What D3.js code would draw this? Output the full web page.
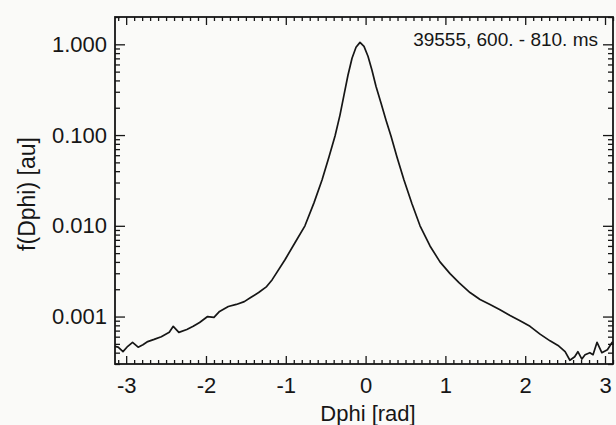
<!DOCTYPE html>
<html>
<head>
<meta charset="utf-8">
<script src="https://cdn.jsdelivr.net/npm/d3@7"></script>
<style>
  body { margin: 0; background: #fafaf8; }
  svg { display: block; }
  text { font-family: "Liberation Sans", Arial, sans-serif; fill: #161616; }
</style>
</head>
<body>
<svg id="chart" width="616" height="425"></svg>
<script>
// phase difference distribution
var dphi = [-3.14, -3.10, -3.04, -2.98, -2.92, -2.85, -2.79, -2.73, -2.65, -2.56,
    -2.46, -2.41, -2.34, -2.24, -2.16, -2.08, -1.98, -1.90, -1.83, -1.72,
    -1.62, -1.52, -1.44, -1.34, -1.24, -1.17, -1.01, -0.885, -0.76, -0.647,
    -0.546, -0.459, -0.383, -0.321, -0.271, -0.221, -0.17, -0.12, -0.07, -0.02,
    0.03, 0.08, 0.13, 0.193, 0.256, 0.318, 0.393, 0.481, 0.581, 0.682,
    0.807, 0.932, 1.058, 1.17, 1.308, 1.434, 1.559, 1.684, 1.81, 1.935,
    2.06, 2.186, 2.311, 2.411, 2.50, 2.56, 2.62, 2.66, 2.71, 2.75,
    2.81, 2.85, 2.90, 2.96, 3.03, 3.09, 3.10];
var fval = [4.7e-4, 4.6e-4, 4.1e-4, 4.7e-4, 5.2e-4, 4.6e-4, 4.9e-4, 5.3e-4, 5.6e-4, 6.0e-4,
    6.7e-4, 7.8e-4, 6.7e-4, 7.2e-4, 7.8e-4, 8.6e-4, 1.0e-3, 9.8e-4, 1.14e-3, 1.29e-3,
    1.36e-3, 1.46e-3, 1.62e-3, 1.84e-3, 2.14e-3, 2.55e-3, 4.23e-3, 6.5e-3, 0.0100, 0.0179,
    0.032, 0.0573, 0.0975, 0.166, 0.275, 0.456, 0.702, 0.927, 1.05, 0.95,
    0.738, 0.518, 0.345, 0.225, 0.146, 0.0975, 0.0573, 0.032, 0.0175, 0.0100,
    6.0e-3, 4.0e-3, 2.97e-3, 2.36e-3, 1.84e-3, 1.54e-3, 1.36e-3, 1.19e-3, 1.03e-3, 9.0e-4,
    7.8e-4, 6.4e-4, 5.4e-4, 4.8e-4, 4.1e-4, 3.3e-4, 3.6e-4, 4.1e-4, 3.4e-4, 3.8e-4,
    4.0e-4, 3.8e-4, 5.2e-4, 4.0e-4, 4.3e-4, 5.2e-4, 4.9e-4];

var xTicks = [-3, -2, -1, 0, 1, 2, 3];
var xTickLabels = ["-3", "-2", "-1", "0", "1", "2", "3"];
var yTicks = [1, 0.1, 0.01, 0.001];
var yTickLabels = ["1.000", "0.100", "0.010", "0.001"];
var note = "39555, 600. - 810. ms";

(function () {
    var pLeft = 115, pRight = 613, pTop = 17, pBottom = 364;
    var ink = "#161616";

    var svg = d3.select("#chart");

    var x = d3.scaleLinear().domain([-3.14, 3.1]).range([pLeft, pRight]);
    var y = d3.scaleLog().domain([0.0003, 2]).range([pBottom, pTop]);

    var minorX = x.ticks(62).filter(function (v) { return Math.abs(v - Math.round(v)) > 1e-6; });
    var minorY = y.ticks().filter(function (v) {
        return yTicks.every(function (t) { return Math.abs(v / t - 1) > 1e-6; });
    });

    function clean(g) {
        g.select(".domain").remove();
        g.selectAll("line").attr("stroke", ink).attr("stroke-width", 1.3);
        g.selectAll("text").attr("fill", ink);
    }

    // minor ticks, all four sides
    svg.append("g").attr("transform", "translate(0," + pBottom + ")")
        .call(d3.axisBottom(x).tickValues(minorX).tickSize(-4).tickFormat("")).call(clean);
    svg.append("g").attr("transform", "translate(0," + pTop + ")")
        .call(d3.axisTop(x).tickValues(minorX).tickSize(-4).tickFormat("")).call(clean);
    svg.append("g").attr("transform", "translate(" + pLeft + ",0)")
        .call(d3.axisLeft(y).tickValues(minorY).tickSize(-5).tickFormat("")).call(clean);
    svg.append("g").attr("transform", "translate(" + pRight + ",0)")
        .call(d3.axisRight(y).tickValues(minorY).tickSize(-5).tickFormat("")).call(clean);

    // major ticks + labels
    svg.append("g").attr("transform", "translate(0," + pBottom + ")")
        .call(d3.axisBottom(x).tickValues(xTicks).tickSize(-8).tickPadding(13)
            .tickFormat(function (d, i) { return xTickLabels[i]; }))
        .call(clean)
        .selectAll("text").style("font-size", "22px");
    svg.append("g").attr("transform", "translate(0," + pTop + ")")
        .call(d3.axisTop(x).tickValues(xTicks).tickSize(-8).tickFormat("")).call(clean);
    svg.append("g").attr("transform", "translate(" + pLeft + ",0)")
        .call(d3.axisLeft(y).tickValues(yTicks).tickSize(-10).tickPadding(8)
            .tickFormat(function (d, i) { return yTickLabels[i]; }))
        .call(clean)
        .selectAll("text").style("font-size", "22px");
    svg.append("g").attr("transform", "translate(" + pRight + ",0)")
        .call(d3.axisRight(y).tickValues(yTicks).tickSize(-10).tickFormat("")).call(clean);

    // frame
    svg.append("rect")
        .attr("x", pLeft).attr("y", pTop)
        .attr("width", pRight - pLeft).attr("height", pBottom - pTop)
        .attr("fill", "none").attr("stroke", ink).attr("stroke-width", 1.8);

    // the curve
    var pts = dphi.map(function (d, i) { return [d, fval[i]]; });
    var line = d3.line()
        .x(function (d) { return x(d[0]); })
        .y(function (d) { return y(d[1]); });

    svg.append("path")
        .datum(pts)
        .attr("d", line)
        .attr("fill", "none")
        .attr("stroke", ink)
        .attr("stroke-width", 1.7)
        .attr("stroke-linejoin", "round");

    // annotation, axis titles
    svg.append("text")
        .attr("x", 598).attr("y", 46)
        .attr("text-anchor", "end")
        .style("font-size", "19px")
        .text(note);

    svg.append("text")
        .attr("x", 368).attr("y", 421)
        .attr("text-anchor", "middle")
        .style("font-size", "22px")
        .text("Dphi [rad]");

    svg.append("text")
        .attr("transform", "translate(35,194) rotate(-90)")
        .attr("text-anchor", "middle")
        .style("font-size", "23px")
        .text("f(Dphi) [au]");
})();
</script>
</body>
</html>
